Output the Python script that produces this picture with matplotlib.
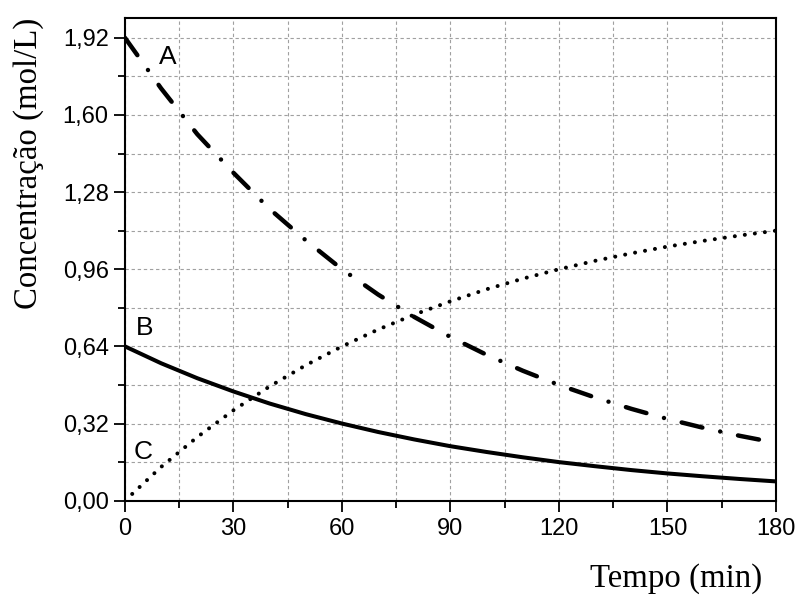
import matplotlib
matplotlib.use("Agg")
import matplotlib.pyplot as plt
from matplotlib.ticker import MultipleLocator, FuncFormatter

# Data
tempo = [0, 10, 20, 30, 40, 50, 60, 70, 80, 90, 100, 110, 120, 130, 140, 150, 160, 170, 180]
conc_A = [1.92, 1.71, 1.52, 1.36, 1.21, 1.08, 0.96, 0.855, 0.762, 0.679, 0.605, 0.539, 0.48,
          0.428, 0.381, 0.339, 0.302, 0.269, 0.24]
conc_B = [0.64, 0.570, 0.508, 0.453, 0.403, 0.359, 0.32, 0.285, 0.254, 0.226, 0.202, 0.180,
          0.16, 0.143, 0.127, 0.113, 0.101, 0.090, 0.08]
conc_C = [0.0, 0.140, 0.264, 0.375, 0.474, 0.562, 0.64, 0.710, 0.772, 0.827, 0.877, 0.921,
          0.96, 0.995, 1.026, 1.054, 1.078, 1.100, 1.12]
series_labels = ["A", "B", "C"]
label_pos = [(11.9, 1.84), (5.5, 0.716), (5.0, 0.203)]
x_label = "Tempo (min)"
y_label = "Concentração (mol/L)"

fig = plt.figure(figsize=(7.99, 5.95), dpi=100)
ax = fig.add_axes([0.1564, 0.1585, 0.8148, 0.8112])

ax.plot(tempo, conc_A, color="black", lw=3.2, linestyle=(0, (4.8, 4.1, 0.01, 4.1)),
        dash_capstyle="round", solid_capstyle="round")
ax.plot(tempo, conc_B, color="black", lw=2.9, linestyle="-")
ax.plot(tempo, conc_C, color="black", lw=2.9, linestyle=(0.05, (0.01, 2.5)),
        dash_capstyle="round")

ax.set_xlim(0, 180)
ax.set_ylim(0, 2.002)
ax.xaxis.set_major_locator(MultipleLocator(30))
ax.xaxis.set_minor_locator(MultipleLocator(15))
ax.yaxis.set_major_locator(MultipleLocator(0.32))
ax.yaxis.set_minor_locator(MultipleLocator(0.16))
ax.yaxis.set_major_formatter(FuncFormatter(lambda v, p: f"{v:.2f}".replace(".", ",")))
ax.xaxis.set_major_formatter(FuncFormatter(lambda v, p: f"{v:.0f}"))

ax.grid(True, which="both", color="#a0a0a0", linestyle=(0, (3, 2.5)), linewidth=0.8)
ax.set_axisbelow(True)

for s in ax.spines.values():
    s.set_linewidth(1.5)
ax.tick_params(which="major", direction="out", length=7.7, width=1.3,
               labelsize=17, top=False, right=False)
ax.tick_params(axis="x", which="major", pad=5)
ax.tick_params(axis="y", which="major", pad=4)
ax.tick_params(which="minor", direction="out", length=4.8, width=1.3, top=False, right=False)
for lbl in ax.get_xticklabels() + ax.get_yticklabels():
    lbl.set_fontfamily("Liberation Sans")

for name, (lx, ly) in zip(series_labels, label_pos):
    ax.text(lx, ly, name, fontsize=19, family="Liberation Sans", ha="center", va="center")

fig.text(762 / 799, 1 - 587 / 595, x_label, fontsize=23.7, family="Liberation Serif",
         ha="right", va="baseline")
fig.text(0.036, 1 - 163 / 595, y_label, fontsize=23.7, family="Liberation Serif", rotation=90,
         ha="center", va="center")

fig.savefig("out.png", dpi=100)
